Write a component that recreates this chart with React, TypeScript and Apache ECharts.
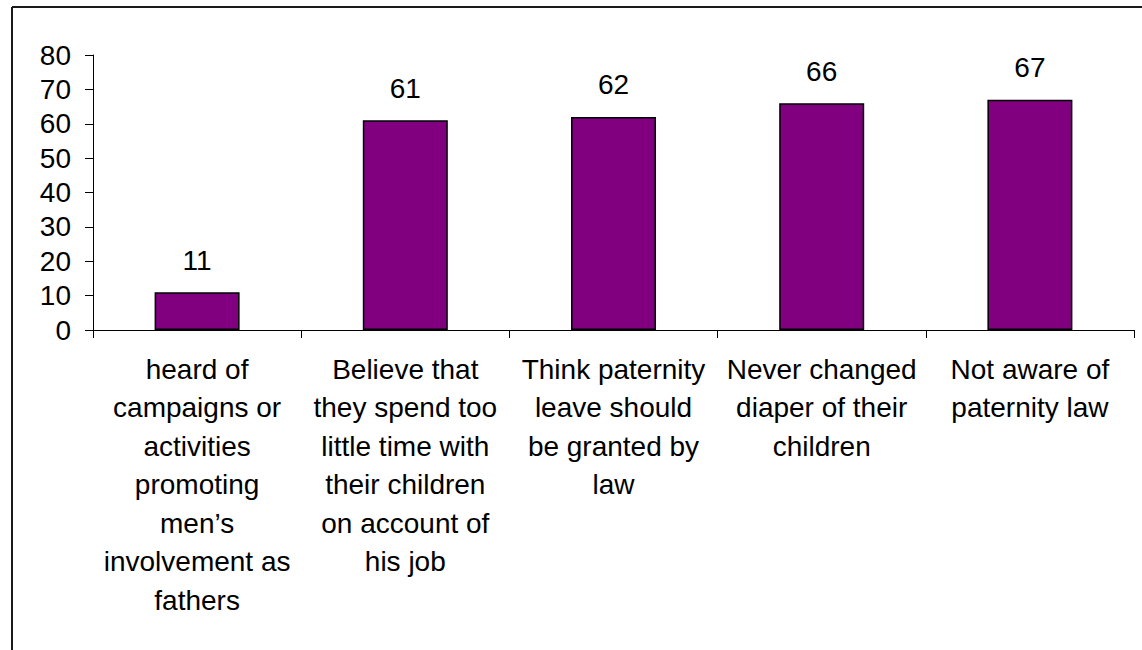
import React, { useEffect, useRef } from "react";
import * as echarts from "echarts";

const categories = [
  "heard of\ncampaigns or\nactivities\npromoting\nmen’s\ninvolvement as\nfathers",
  "Believe that\nthey spend too\nlittle time with\ntheir children\non account of\nhis job",
  "Think paternity\nleave should\nbe granted by\nlaw",
  "Never changed\ndiaper of their\nchildren",
  "Not aware of\npaternity law",
];
const values = [11, 61, 62, 66, 67];
const yTicks = { min: 0, max: 80, interval: 10 };

export default function App() {
  const ref = useRef<HTMLDivElement>(null);
  useEffect(() => {
    document.body.style.margin = "0";
    const chart = echarts.init(ref.current!, null, { renderer: "svg" });
    const font = "'Liberation Sans', Arial, sans-serif";
    chart.setOption({
      animation: false,
      backgroundColor: "#ffffff",
      grid: { left: 93, right: 8, top: 55, bottom: 320 },
      graphic: [
        {
          type: "line",
          shape: { x1: 12, y1: 7, x2: 1142, y2: 7 },
          style: { stroke: "#1a1a1a", lineWidth: 2 },
        },
        {
          type: "line",
          shape: { x1: 12, y1: 7, x2: 12, y2: 650 },
          style: { stroke: "#1a1a1a", lineWidth: 2 },
        },
      ],
      xAxis: {
        type: "category",
        data: categories,
        axisLine: { lineStyle: { color: "#000", width: 1 } },
        axisTick: { show: true, length: 8, lineStyle: { color: "#000" } },
        axisLabel: {
          interval: 0,
          color: "#000",
          fontFamily: font,
          fontSize: 28,
          lineHeight: 38.5,
          margin: 20,
          align: "center",
        },
      },
      yAxis: {
        type: "value",
        min: yTicks.min,
        max: yTicks.max,
        interval: yTicks.interval,
        splitLine: { show: false },
        axisLine: { show: true, lineStyle: { color: "#000", width: 1 } },
        axisTick: { show: true, length: 8, lineStyle: { color: "#000" } },
        axisLabel: { color: "#000", fontFamily: font, fontSize: 28, margin: 22 },
      },
      series: [
        {
          type: "bar",
          data: values,
          barWidth: 85,
          itemStyle: { color: "#800080", borderColor: "#000", borderWidth: 1.5 },
          label: {
            show: true,
            position: "top",
            distance: 18,
            color: "#000",
            fontFamily: font,
            fontSize: 28,
          },
        },
      ],
    });
    return () => chart.dispose();
  }, []);
  return <div ref={ref} style={{ width: 1142, height: 650 }} />;
}
